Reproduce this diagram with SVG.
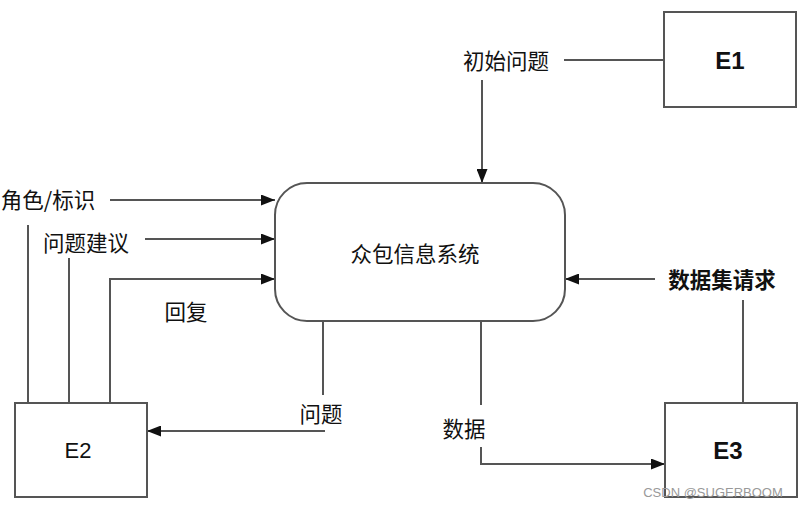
<svg xmlns="http://www.w3.org/2000/svg" width="800" height="507" viewBox="0 0 800 507">
<defs>
<marker id="arr" viewBox="0 0 14 11" refX="14" refY="5.5" markerWidth="14" markerHeight="11" markerUnits="userSpaceOnUse" orient="auto">
<path d="M0,0 L14,5.5 L0,11 z" fill="#111"/>
</marker>
</defs>
<style>
.box{fill:#fff;stroke:#555;stroke-width:2}
.ln{fill:none;stroke:#555;stroke-width:2}
.t{font-family:"Noto Sans CJK SC","Liberation Sans",sans-serif;font-size:21.5px;fill:#111;text-anchor:middle;dominant-baseline:central}
.b{font-weight:bold}
.e{font-family:"Liberation Sans",Arial,sans-serif;font-size:22px;fill:#111;text-anchor:middle;dominant-baseline:central}
.eb{font-size:24px;font-weight:bold}
.wm{font-family:"Liberation Sans",Arial,sans-serif;font-size:13px;fill:#999;text-anchor:middle;dominant-baseline:central}
</style>
<rect width="800" height="507" fill="#fff"/>
<g id="connectors">
<path class="ln" d="M564,60 H664"/>
<path class="ln" d="M482,80 V183" marker-end="url(#arr)"/>
<path class="ln" d="M110,200 H275" marker-end="url(#arr)"/>
<path class="ln" d="M145,239 H275" marker-end="url(#arr)"/>
<path class="ln" d="M28,225 V403"/>
<path class="ln" d="M69,258 V403"/>
<path class="ln" d="M110,403 V279 H275" marker-end="url(#arr)"/>
<path class="ln" d="M323,321 V395"/>
<path class="ln" d="M325,431 H147" marker-end="url(#arr)"/>
<path class="ln" d="M481,321 V405"/>
<path class="ln" d="M481,447 V464 H665" marker-end="url(#arr)"/>
<path class="ln" d="M655,279 H565" marker-end="url(#arr)"/>
<path class="ln" d="M743,300 V403"/>
</g>
<g id="system">
<rect class="box" x="275" y="183" width="290" height="138" rx="32" ry="32"/>
<text class="t" x="415" y="252">众包信息系统</text>
</g>
<g id="E1">
<rect class="box" x="664" y="12" width="132" height="95"/>
<text class="e eb" x="730" y="60">E1</text>
</g>
<g id="E2">
<rect class="box" x="15" y="403" width="132" height="94"/>
<text class="e" x="78" y="450">E2</text>
</g>
<g id="E3">
<rect class="box" x="665" y="403" width="132" height="94"/>
<text class="e eb" x="728" y="450">E3</text>
</g>
<g id="labels">
<text class="t" x="506" y="59">初始问题</text>
<text class="t" x="48" y="198">角色/标识</text>
<text class="t" x="86" y="241">问题建议</text>
<text class="t" x="186" y="310">回复</text>
<text class="t" x="321" y="412">问题</text>
<text class="t" x="464" y="427">数据</text>
<text class="t b" x="722" y="278">数据集请求</text>
<text class="wm" x="713" y="492">CSDN @SUGERBOOM</text>
</g>
</svg>
